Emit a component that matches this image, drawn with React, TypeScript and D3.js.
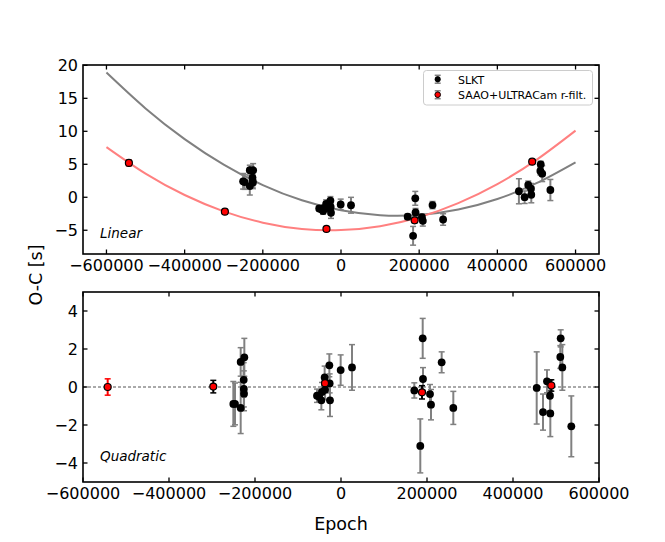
import * as d3 from "d3";

// SLKT timings (epoch, O-C vs linear ephemeris, O-C vs quadratic ephemeris, 1-sigma error)
const slktEpoch = [
  -250400, -246500, -233300, -233300, -224800, -226300, -226000, -225500,
  -55800, -51000, -44200, -45700, -38000, -37000, -27100, -26400, -25600, -800,
  25600, 170500, 190000, 190700, 184400, 207000, 209300, 234100, 261200, 455100,
  469800, 479000, 486000, 486800, 510900, 510000, 514700, 535600,
];
const slktLinear = [
  2.42, 2.3, 1.69, 4.11, 4.1, 2.97, 2.48, 2.21, -1.69, -1.8, -1.66, -2.08,
  -0.99, -1.64, -0.5, -1.46, -2.35, -1.08, -1.21, -2.95, -0.16, -2.3, -5.84,
  -3.02, -3.57, -1.19, -3.37, 0.91, 0.01, 1.86, 1.29, 0.38, 5.0, 3.99, 3.58, 1.1,
];
const slktQuadratic = [
  -0.89, -0.89, -1.1, 1.32, 1.56, 0.38, -0.1, -0.35, -0.46, -0.5, -0.26, -0.7,
  0.5, -0.15, 1.14, 0.19, -0.7, 0.89, 1.03, -0.18, 2.56, 0.42, -3.1, -0.37,
  -0.93, 1.3, -1.1, -0.05, -1.32, 0.3, -0.46, -1.39, 2.56, 1.58, 1.03, -2.07,
];
const slktError = [
  1.18, 1.1, 1.35, 0.75, 1.0, 0.9, 0.95, 0.9, 0.35, 0.3, 0.5, 0.5, 0.6, 0.5,
  0.6, 0.5, 0.85, 0.8, 1.2, 0.4, 1.05, 0.6, 1.42, 0.5, 0.8, 0.55, 0.87, 1.9,
  0.95, 0.6, 0.8, 1.22, 0.45, 0.6, 1.2, 1.6,
];

// SAAO + ULTRACam r-filter timings
const saaoEpoch = [-542600, -297000, -37200, 188400, 489100];
const saaoLinear = [5.2, -2.18, -4.8, -3.5, 5.4];
const saaoQuadratic = [0.0, 0.02, 0.2, -0.28, 0.08];
const saaoError = [0.43, 0.33, 0.3, 0.35, 0.3];
const saaoSource = ["SAAO", "ULTRACam", "ULTRACam", "ULTRACam", "ULTRACam"];

// quadratic fits
const fitEpoch = [
  -600000, -500000, -400000, -300000, -200000, -100000, 0, 100000, 200000,
  300000, 400000, 500000, 600000,
];
const fitSlkt = [18.9, 13.46, 8.81, 4.94, 1.85, -0.46, -1.98, -2.72, -2.68, -1.86, -0.26, 2.13, 5.3];
const fitSaao = [7.6, 3.58, 0.34, -2.14, -3.85, -4.8, -4.97, -4.38, -3.02, -0.89, 2.0, 5.67, 10.1];

const xTicks = [-600000, -400000, -200000, 0, 200000, 400000, 600000];
const topYTicks = [-5, 0, 5, 10, 15, 20];
const bottomYTicks = [-4, -2, 0, 2, 4];

const W = 665;
const H = 542;
const font = "DejaVu Sans, sans-serif";
const errGrey = "#808080";
const errColor: Record<string, string> = { SAAO: "#ff0000", ULTRACam: "#000000" };

const topBox = { left: 83, right: 599, top: 65, bottom: 254 };
const botBox = { left: 83, right: 599, top: 292, bottom: 482 };

const fmt = (v: number) => (v < 0 ? "\u2212" + Math.abs(v) : String(v));

function Frame({
  box,
  x,
  y,
  yTicks,
}: {
  box: typeof topBox;
  x: d3.ScaleLinear<number, number>;
  y: d3.ScaleLinear<number, number>;
  yTicks: number[];
}) {
  const tl = 4.5;
  return (
    <g>
      {xTicks.map((t) => (
        <g key={"x" + t}>
          <line x1={x(t)} x2={x(t)} y1={box.bottom} y2={box.bottom - tl} stroke="#000" strokeWidth={1.3} />
          <line x1={x(t)} x2={x(t)} y1={box.top} y2={box.top + tl} stroke="#000" strokeWidth={1.3} />
          <text x={x(t)} y={box.bottom + 17} textAnchor="middle" fontSize={16} fontFamily={font}>
            {fmt(t)}
          </text>
        </g>
      ))}
      {yTicks.map((t) => (
        <g key={"y" + t}>
          <line x1={box.left} x2={box.left + tl} y1={y(t)} y2={y(t)} stroke="#000" strokeWidth={1.3} />
          <line x1={box.right} x2={box.right - tl} y1={y(t)} y2={y(t)} stroke="#000" strokeWidth={1.3} />
          <text x={box.left - 5} y={y(t)} dy="0.36em" textAnchor="end" fontSize={16} fontFamily={font}>
            {fmt(t)}
          </text>
        </g>
      ))}
      <rect
        x={box.left}
        y={box.top}
        width={box.right - box.left}
        height={box.bottom - box.top}
        fill="none"
        stroke="#000"
        strokeWidth={1.6}
      />
    </g>
  );
}

function ErrorBar({ cx, y0, y1, color }: { cx: number; y0: number; y1: number; color: string }) {
  const cap = 3;
  return (
    <g stroke={color}>
      <line x1={cx} x2={cx} y1={y0} y2={y1} strokeWidth={2} />
      <line x1={cx - cap} x2={cx + cap} y1={y0} y2={y0} strokeWidth={1.5} />
      <line x1={cx - cap} x2={cx + cap} y1={y1} y2={y1} strokeWidth={1.5} />
    </g>
  );
}

export default function App() {
  const xTop = d3.scaleLinear().domain([-660000, 660000]).range([topBox.left, topBox.right]);
  const yTop = d3.scaleLinear().domain([-8.6, 20.05]).range([topBox.bottom, topBox.top]);
  const xBot = d3.scaleLinear().domain([-600000, 600000]).range([botBox.left, botBox.right]);
  const yBot = d3.scaleLinear().domain([-5, 5]).range([botBox.bottom, botBox.top]);

  const fitLine = d3
    .line<number>()
    .x((_, i) => xTop(fitEpoch[i]))
    .y((d) => yTop(d))
    .curve(d3.curveNatural);

  const r = 3.9;
  const rRed = 3.5;

  return (
    <svg
      width={W}
      height={H}
      viewBox={`0 0 ${W} ${H}`}
      style={{ position: "absolute", left: 0, top: 0, background: "#fff" }}
      xmlns="http://www.w3.org/2000/svg"
    >
      <rect width={W} height={H} fill="#fff" />

      <defs>
        <clipPath id="clipTop">
          <rect x={topBox.left} y={topBox.top} width={topBox.right - topBox.left} height={topBox.bottom - topBox.top} />
        </clipPath>
        <clipPath id="clipBot">
          <rect x={botBox.left} y={botBox.top} width={botBox.right - botBox.left} height={botBox.bottom - botBox.top} />
        </clipPath>
      </defs>

      {/* Top panel: linear ephemeris */}
      <g clipPath="url(#clipTop)">
        <path d={fitLine(fitSlkt) ?? ""} fill="none" stroke="#808080" strokeWidth={2} />
        <path d={fitLine(fitSaao) ?? ""} fill="none" stroke="#ff8080" strokeWidth={2} />
        {slktEpoch.map((e, i) => (
          <ErrorBar
            key={"te" + i}
            cx={xTop(e)}
            y0={yTop(slktLinear[i] - slktError[i])}
            y1={yTop(slktLinear[i] + slktError[i])}
            color={errGrey}
          />
        ))}
        {slktEpoch.map((e, i) => (
          <circle key={"tp" + i} cx={xTop(e)} cy={yTop(slktLinear[i])} r={r} fill="#000" />
        ))}
        {saaoEpoch.map((e, i) => (
          <ErrorBar
            key={"tse" + i}
            cx={xTop(e)}
            y0={yTop(saaoLinear[i] - saaoError[i])}
            y1={yTop(saaoLinear[i] + saaoError[i])}
            color={errColor[saaoSource[i]]}
          />
        ))}
        {saaoEpoch.map((e, i) => (
          <circle key={"tsp" + i} cx={xTop(e)} cy={yTop(saaoLinear[i])} r={rRed} fill="#ff0000" stroke="#000" strokeWidth={1.2} />
        ))}
      </g>
      <text x={100} y={238} fontSize={13.5} fontStyle="italic" fontFamily={font}>
        Linear
      </text>
      <Frame box={topBox} x={xTop} y={yTop} yTicks={topYTicks} />

      {/* Legend */}
      <g>
        <rect x={423.5} y={70.5} width={169} height={34.5} rx={3} fill="#fff" stroke="#cccccc" strokeWidth={1} />
        <ErrorBar cx={437.7} y0={75.3} y1={83.2} color={errGrey} />
        <circle cx={437.7} cy={79.2} r={3} fill="#000" />
        <text x={458} y={83.5} fontSize={11} fontFamily={font}>
          SLKT
        </text>
        <ErrorBar cx={437.7} y0={90.8} y1={98.7} color={errGrey} />
        <circle cx={437.7} cy={94.7} r={2.8} fill="#ff0000" stroke="#000" strokeWidth={1} />
        <text x={458} y={99} fontSize={11} fontFamily={font}>
          SAAO+ULTRACam r-filt.
        </text>
      </g>

      {/* Bottom panel: quadratic ephemeris residuals */}
      <g clipPath="url(#clipBot)">
        <line
          x1={botBox.left}
          x2={botBox.right}
          y1={yBot(0)}
          y2={yBot(0)}
          stroke="#555"
          strokeWidth={1}
          strokeDasharray="3,2"
        />
        {slktEpoch.map((e, i) => (
          <ErrorBar
            key={"be" + i}
            cx={xBot(e)}
            y0={yBot(slktQuadratic[i] - slktError[i])}
            y1={yBot(slktQuadratic[i] + slktError[i])}
            color={errGrey}
          />
        ))}
        {slktEpoch.map((e, i) => (
          <circle key={"bp" + i} cx={xBot(e)} cy={yBot(slktQuadratic[i])} r={r} fill="#000" />
        ))}
        {saaoEpoch.map((e, i) => (
          <ErrorBar
            key={"bse" + i}
            cx={xBot(e)}
            y0={yBot(saaoQuadratic[i] - saaoError[i])}
            y1={yBot(saaoQuadratic[i] + saaoError[i])}
            color={errColor[saaoSource[i]]}
          />
        ))}
        {saaoEpoch.map((e, i) => (
          <circle key={"bsp" + i} cx={xBot(e)} cy={yBot(saaoQuadratic[i])} r={rRed} fill="#ff0000" stroke="#000" strokeWidth={1.2} />
        ))}
      </g>
      <text x={100} y={461} fontSize={13.5} fontStyle="italic" fontFamily={font}>
        Quadratic
      </text>
      <Frame box={botBox} x={xBot} y={yBot} yTicks={bottomYTicks} />

      {/* Axis labels */}
      <text x={341} y={530} textAnchor="middle" fontSize={17.5} fontFamily={font}>
        Epoch
      </text>
      <text
        transform="translate(41.5,275) rotate(-90)"
        textAnchor="middle"
        fontSize={17.5}
        fontFamily={font}
      >
        O-C [s]
      </text>
    </svg>
  );
}
